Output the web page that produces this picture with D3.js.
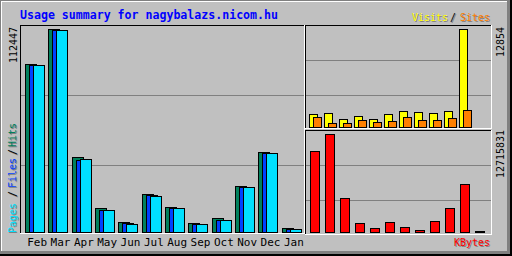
<!DOCTYPE html>
<html>
<head>
<meta charset="utf-8">
<script src="https://cdn.jsdelivr.net/npm/d3@7"></script>
<style>
  body { margin: 0; background: #c0c0c0; }
  svg { display: block; }
  text { font-family: "DejaVu Sans Mono", monospace; font-size: 10px; }
</style>
</head>
<body>
<svg id="chart" width="512" height="256"></svg>
<script>
// monthly data
var months = ["Feb", "Mar", "Apr", "May", "Jun", "Jul", "Aug", "Sep", "Oct", "Nov", "Dec", "Jan"];
var hits   = [93331, 112447, 41268, 13044, 5397, 20803, 13606, 4835, 7534, 25301, 44079, 2024];
var files  = [92769, 111885, 40144, 12032, 4835, 20240, 13044, 4273, 6409, 24738, 43517, 1799];
var pages  = [92656, 111772, 40706, 12032, 4273, 19678, 13044, 4273, 6409, 24738, 43517, 1799];
var visits = [1710, 1838, 1054, 1440, 1054, 1710, 2095, 1967, 1838, 2095, 12854, 60];
var sites  = [1311, 527, 527, 913, 656, 784, 1311, 913, 913, 1183, 2224, 30];
var kbytes = [10516000, 12715831, 4412000, 1170000, 521000, 1297000, 649000, 254000, 1424000, 3115000, 6231000, 127000];

var maxHits = 112447, maxVisits = 12854, maxKbytes = 12715831;

var colors = {
    hits: "#00805c", files: "#0040ff", pages: "#00e0ff",
    visits: "#ffff00", sites: "#ff8000", kbytes: "#ff0000"
};

var svg = d3.select("#chart");

// frame
svg.append("rect").attr("width", 512).attr("height", 256).attr("fill", "#000");
svg.append("rect").attr("width", 510).attr("height", 254).attr("fill", "#808080");
svg.append("rect").attr("x", 1).attr("y", 1).attr("width", 506).attr("height", 250).attr("fill", "#ffffff");
svg.append("rect").attr("x", 2).attr("y", 2).attr("width", 505).attr("height", 249).attr("fill", "#c0c0c0");

// plot panels: black top/left, white bottom/right
function panel(x0, y0, x1, y1) {
    svg.append("line").attr("x1", x0).attr("y1", y0 + 0.5).attr("x2", x1).attr("y2", y0 + 0.5).attr("stroke", "#000");
    svg.append("line").attr("x1", x0 + 0.5).attr("y1", y0).attr("x2", x0 + 0.5).attr("y2", y1).attr("stroke", "#000");
    svg.append("line").attr("x1", x0).attr("y1", y1 + 0.5).attr("x2", x1 + 1).attr("y2", y1 + 0.5).attr("stroke", "#fff");
    svg.append("line").attr("x1", x1 + 0.5).attr("y1", y0).attr("x2", x1 + 0.5).attr("y2", y1 + 1).attr("stroke", "#fff");
}
function grid(x0, x1, ys) {
    ys.forEach(function (y) {
        svg.append("line").attr("x1", x0).attr("x2", x1)
            .attr("y1", y + 0.5).attr("y2", y + 0.5)
            .attr("stroke", "#808080");
    });
}

panel(20, 25, 304, 233);
panel(305, 25, 491, 128);
panel(305, 130, 491, 234);
grid(21, 304, [95, 165]);
grid(306, 491, [60, 95]);
grid(306, 491, [165, 200]);

// scales
var xMain = d3.scaleBand().domain(months).range([25, 305]);
var yMain = d3.scaleLinear().domain([0, maxHits]).range([232, 29]);
var xSide = d3.scaleBand().domain(months).range([309, 489]);
var yVisits = d3.scaleLinear().domain([0, maxVisits]).range([127, 29]);
var yKbytes = d3.scaleLinear().domain([0, maxKbytes]).range([232, 134]);

function bars(values, xs, ys, offset, width, color) {
    svg.append("g").selectAll("rect")
        .data(values)
        .enter()
        .append("rect")
        .attr("x", function (d, i) { return Math.round(xs(months[i])) + offset + 0.5; })
        .attr("y", function (d) { return Math.round(ys(d)) + 0.5; })
        .attr("width", width)
        .attr("height", function (d) { return Math.max(0, Math.round(ys(0)) - Math.round(ys(d))); })
        .attr("fill", color)
        .attr("stroke", "#000")
        .attr("shape-rendering", "crispEdges");
}

bars(hits, xMain, yMain, 0, 11, colors.hits);
bars(files, xMain, yMain, 4, 11, colors.files);
bars(pages, xMain, yMain, 8, 11, colors.pages);
bars(visits, xSide, yVisits, 0, 8, colors.visits);
bars(sites, xSide, yVisits, 4, 8, colors.sites);
bars(kbytes, xSide, yKbytes, 1, 9, colors.kbytes);

// month labels
var axis = svg.append("g")
    .attr("transform", "translate(0,238)")
    .call(d3.axisBottom(xMain).tickSize(0).tickPadding(0));
axis.select(".domain").remove();
axis.selectAll("text")
    .attr("dy", "0.72em")
    .attr("dx", "0.5")
    .style("font-family", "DejaVu Sans Mono")
    .style("font-size", "11px")
    .attr("fill", "#000");

// text helpers
function label(txt, x, y, color, shadow, rotate, len) {
    var g = svg.append("g");
    function one(dx, dy, c) {
        var t = g.append("text")
            .attr("transform", "translate(" + (x + dx) + "," + (y + dy) + ")" + (rotate ? " rotate(-90)" : ""))
            .attr("fill", c)
            .text(txt);
        if (len) t.attr("textLength", len).attr("lengthAdjust", "spacingAndGlyphs");
        return t;
    }
    if (shadow) one(1, 1, "#808080");
    one(0, 0, color);
}

// title
svg.append("text")
    .attr("x", 20).attr("y", 19)
    .attr("fill", "#0000ff")
    .style("font-size", "11.5px")
    .style("font-weight", "bold")
    .attr("textLength", 258)
    .attr("lengthAdjust", "spacingAndGlyphs")
    .text("Usage summary for nagybalazs.nicom.hu");

// legends
label("Visits", 412, 20.5, colors.visits, true, false, 36);
label("/", 450, 20.5, "#000", true, false, 6);
label("Sites", 460, 20.5, colors.sites, true, false, 30);
label("KBytes", 454, 246, colors.kbytes, true, false, 36);

label("Pages", 16, 233, colors.pages, true, true, 30);
label("/", 16, 197, "#000", true, true, 6);
label("Files", 16, 188, colors.files, true, true, 30);
label("/", 16, 155, "#000", true, true, 6);
label("Hits", 16, 147, colors.hits, true, true, 24);

// max values
label("112447", 17, 63, "#000", false, true, 36);
label("12854", 504, 57, "#000", false, true, 30);
label("12715831", 504, 178, "#000", false, true, 48);
</script>
</body>
</html>
